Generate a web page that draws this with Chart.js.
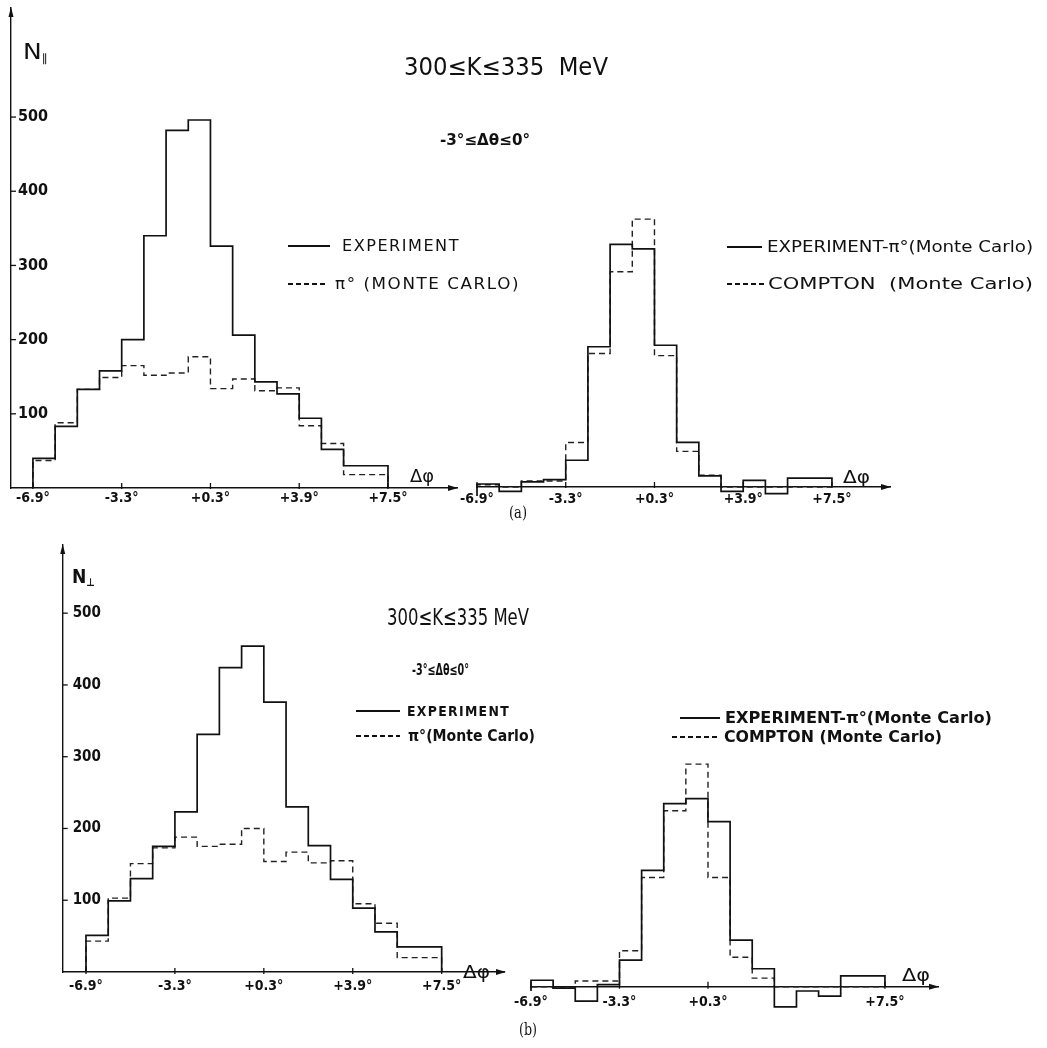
<!DOCTYPE html>
<html>
<head>
<meta charset="utf-8">
<script src="https://cdn.jsdelivr.net/npm/chart.js@4.4.0/dist/chart.umd.min.js"></script>
<style>
  html, body { margin: 0; padding: 0; background: #fff; }
  body { width: 1047px; height: 1048px; position: relative; overflow: hidden; }
  canvas { position: absolute; left: 0; top: 0; }
  .lbl { position: absolute; white-space: pre; line-height: 1; color: #111; font-family: 'DejaVu Sans', sans-serif; transform-origin: left center; }
  .key { position: absolute; height: 1.6px; background: #111; }
  .key.dash { background: repeating-linear-gradient(to right, #111 0 5px, transparent 5px 8px); height: 1.4px; }
</style>
</head>
<body>
<canvas id="aLeft" width="1047" height="1048"></canvas>
<canvas id="aRight" width="1047" height="1048"></canvas>
<canvas id="bLeft" width="1047" height="1048"></canvas>
<canvas id="bRight" width="1047" height="1048"></canvas>
<script>
// bin edges in delta-phi (degrees), 16 bins of 0.9 deg
const binEdges = [-6.9, -6.0, -5.1, -4.2, -3.3, -2.4, -1.5, -0.6, 0.3, 1.2, 2.1, 3.0, 3.9, 4.8, 5.7, 6.6, 7.5];
const xTicks = [-6.9, -3.3, 0.3, 3.9, 7.5];
const xTicksBRight = [-6.9, -3.3, 0.3, 7.5];
const yTicks = [100, 200, 300, 400, 500];

// (a) parallel
const expParA = [16, 40, 83, 133, 158, 200, 340, 482, 496, 326, 206, 143, 127, 94, 52, 30];
const mcParA = [28, 37, 88, 133, 149, 165, 152, 155, 177, 134, 147, 131, 135, 84, 60, 18];
const diffParA = [-12, 4, -6, 7, 10, 36, 189, 327, 321, 191, 60, 15, -6, 9, -9, 12];
const comptonParA = [0, 3, 0, 8, 8, 60, 180, 290, 361, 177, 48, 16, 0, 0, 0, 0];

// (b) perpendicular
const expPerpB = [24, 51, 99, 130, 175, 223, 331, 424, 454, 376, 230, 176, 129, 89, 56, 35];
const mcPerpB = [31, 43, 103, 151, 173, 188, 175, 178, 200, 154, 167, 152, 155, 95, 68, 20];
const diffPerpB = [-6, 9, -2, -20, 3, 37, 162, 255, 262, 230, 65, 25, -28, -6, -13, 15];
const comptonPerpB = [0, 0, -2, 8, 8, 50, 152, 245, 310, 152, 41, 12, 0, 0, 0, 0];

const TICK_FONT = "'DejaVu Sans Condensed', 'Liberation Sans Narrow', 'DejaVu Sans', sans-serif";

// turn bin values into a closed step outline
function stepPoints(edges, values) {
    const pts = [{ x: edges[0], y: 0 }];
    values.forEach((v, i) => pts.push({ x: edges[i], y: v }));
    pts.push({ x: edges[edges.length - 1], y: values[values.length - 1] });
    pts.push({ x: edges[edges.length - 1], y: 0 });
    return pts;
}

function fmtDeg(v) {
    return (v > 0 ? '+' : '') + Number(v).toFixed(1) + '°';
}

// tick marks and arrow heads
const axisMarks = {
    id: 'axisMarks',
    afterDraw(chart, args, opts) {
        const ctx = chart.ctx;
        const xs = chart.scales.x, ys = chart.scales.y;
        const y0 = ys.getPixelForValue(0);
        const area = chart.chartArea;
        ctx.save();
        ctx.strokeStyle = '#111';
        ctx.fillStyle = '#111';
        ctx.lineWidth = 1.3;
        xs.ticks.forEach(t => {
            const px = xs.getPixelForValue(t.value);
            ctx.beginPath();
            ctx.moveTo(px, y0 - opts.xUp);
            ctx.lineTo(px, y0 + opts.xDown);
            ctx.stroke();
        });
        const xr = area.right;
        ctx.beginPath();
        ctx.moveTo(xr + 1, y0);
        ctx.lineTo(xr - 9, y0 - 3);
        ctx.lineTo(xr - 9, y0 + 3);
        ctx.closePath();
        ctx.fill();
        if (opts.yAxis) {
            const xl = area.left, yt = area.top;
            ys.ticks.forEach(t => {
                const py = ys.getPixelForValue(t.value);
                ctx.beginPath();
                ctx.moveTo(xl, py);
                ctx.lineTo(xl + 5, py);
                ctx.stroke();
            });
            ctx.beginPath();
            ctx.moveTo(xl, yt - 1);
            ctx.lineTo(xl - 2.5, yt + 9);
            ctx.lineTo(xl + 2.5, yt + 9);
            ctx.closePath();
            ctx.fill();
        }
        ctx.restore();
    }
};

function histPanel(id, cfg) {
    return new Chart(document.getElementById(id), {
        type: 'line',
        data: {
            datasets: [{
                data: stepPoints(binEdges, cfg.solid),
                borderColor: '#111',
                borderWidth: 1.7,
                stepped: 'after',
                pointRadius: 0,
                fill: false,
                clip: false
            }, {
                data: stepPoints(binEdges, cfg.dashed),
                borderColor: '#222',
                borderWidth: 1.4,
                borderDash: [6, 4],
                stepped: 'after',
                pointRadius: 0,
                fill: false,
                clip: false
            }]
        },
        options: {
            responsive: false,
            animation: false,
            devicePixelRatio: 1,
            layout: { padding: cfg.pad },
            plugins: { legend: { display: false }, tooltip: { enabled: false }, axisMarks: cfg.marks },
            scales: {
                x: {
                    type: 'linear',
                    min: cfg.xMin,
                    max: cfg.xMax,
                    position: { y: 0 },
                    grid: { display: false, drawTicks: false },
                    border: { display: true, color: '#111', width: 1.4 },
                    afterBuildTicks: s => { s.ticks = cfg.xTicks.map(v => ({ value: v })); },
                    afterFit: s => { s.height = 0; s.paddingLeft = 0; s.paddingRight = 0; },
                    ticks: {
                        autoSkip: false,
                        maxRotation: 0,
                        padding: cfg.xPad,
                        color: '#111',
                        font: { family: TICK_FONT, size: cfg.xSize, weight: 'bold' },
                        callback: v => fmtDeg(v)
                    }
                },
                y: {
                    type: 'linear',
                    min: cfg.yMin,
                    max: cfg.yMax,
                    display: cfg.showY,
                    position: 'left',
                    grid: { display: false, drawTicks: false },
                    border: { display: true, color: '#111', width: 1.4 },
                    afterBuildTicks: s => { s.ticks = yTicks.map(v => ({ value: v })); },
                    afterFit: s => { s.width = 0; s.paddingTop = 0; s.paddingBottom = 0; },
                    ticks: {
                        mirror: true,
                        padding: cfg.yPad,
                        color: '#111',
                        font: { family: TICK_FONT, size: cfg.ySize, weight: 'bold' }
                    }
                }
            }
        },
        plugins: [axisMarks]
    });
}

histPanel('aLeft', {
    solid: expParA, dashed: mcParA, xTicks: xTicks,
    xMin: -7.79, xMax: 10.3, yMin: 0, yMax: 647, showY: true,
    pad: { left: 11, top: 8, right: 590, bottom: 560 },
    xPad: 2, xSize: 14, yPad: 7, ySize: 16,
    marks: { xUp: 5, xDown: 1, yAxis: true }
});
histPanel('aRight', {
    solid: diffParA, dashed: comptonParA, xTicks: xTicks,
    xMin: -6.9, xMax: 9.855, yMin: -60, yMax: 400, showY: false,
    pad: { left: 477, top: 190.2, right: 157, bottom: 516.5 },
    xPad: 4, xSize: 14, yPad: 7, ySize: 16,
    marks: { xUp: 5, xDown: 1, yAxis: false }
});
histPanel('bLeft', {
    solid: expPerpB, dashed: mcPerpB, xTicks: xTicks,
    xMin: -7.843, xMax: 10.064, yMin: 0, yMax: 595, showY: true,
    pad: { left: 62.7, top: 545, right: 542, bottom: 76 },
    xPad: 6, xSize: 14, yPad: 10, ySize: 15,
    marks: { xUp: 4, xDown: 2, yAxis: true }
});
histPanel('bRight', {
    solid: diffPerpB, dashed: comptonPerpB, xTicks: xTicksBRight,
    xMin: -6.9, xMax: 9.658, yMin: -60, yMax: 360, showY: false,
    pad: { left: 531, top: 728.2, right: 109, bottom: 18.2 },
    xPad: 7, xSize: 14, yPad: 7, ySize: 15,
    marks: { xUp: 5, xDown: 2, yAxis: false }
});

// text placed at left x, centre y, stretched to width w
function addText(html, x, yc, w, size, extra) {
    const d = document.createElement('div');
    d.className = 'lbl';
    d.innerHTML = html;
    d.style.fontSize = size + 'px';
    Object.assign(d.style, extra || {});
    document.body.appendChild(d);
    const nat = d.getBoundingClientRect().width;
    d.style.left = x + 'px';
    d.style.top = (yc - d.offsetHeight / 2) + 'px';
    d.style.transform = 'scaleX(' + (w / nat) + ')';
}

function addKey(x1, x2, y, dashed) {
    const k = document.createElement('div');
    k.className = dashed ? 'key dash' : 'key';
    k.style.left = x1 + 'px';
    k.style.top = (y - 0.8) + 'px';
    k.style.width = (x2 - x1) + 'px';
    document.body.appendChild(k);
}

const bold = { fontWeight: 'bold' };
const spaced = { letterSpacing: '1.5px' };
const serif = { fontFamily: "'DejaVu Serif', 'Liberation Serif', serif" };

// (a)
addText('N<span style="font-size:11px;vertical-align:-3px">∥</span>', 23, 52, 25, 22);
addText('300≤K≤335  MeV', 404, 67, 204, 24);
addText('-3°≤Δθ≤0°', 440, 140, 90, 15, bold);
addKey(288, 330, 246, false);
addText('EXPERIMENT', 342, 246, 118, 16, spaced);
addKey(288, 326, 284, true);
addText('π° (MONTE CARLO)', 335, 284, 185, 16, spaced);
addKey(727, 762, 247, false);
addText('EXPERIMENT-π°(Monte Carlo)', 767, 247, 266, 16);
addKey(727, 765, 284, true);
addText('COMPTON  (Monte Carlo)', 768, 284, 265, 16);
addText('Δφ', 410, 476, 24, 18);
addText('Δφ', 843, 477, 27, 18);
addText('(a)', 509, 513, 18, 16, serif);

// (b)
addText('N<span style="font-size:11px;vertical-align:-3px">⊥</span>', 72, 577, 23, 20, bold);
addText('300≤K≤335 MeV', 387, 617, 142, 23);
addText('-3°≤Δθ≤0°', 412, 670, 57, 15, bold);
addKey(356, 400, 711, false);
addText('EXPERIMENT', 407, 711, 103, 14, { fontWeight: 'bold', letterSpacing: '1.5px' });
addKey(356, 400, 736, true);
addText('π°(Monte Carlo)', 408, 736, 127, 15, bold);
addKey(680, 720, 718, false);
addText('EXPERIMENT-π°(Monte Carlo)', 725, 718, 267, 15, bold);
addKey(672, 720, 737, true);
addText('COMPTON (Monte Carlo)', 724, 737, 218, 15, bold);
addText('Δφ', 463, 972, 27, 18);
addText('Δφ', 902, 975, 28, 18);
addText('(b)', 519, 1030, 18, 16, serif);
</script>
</body>
</html>
